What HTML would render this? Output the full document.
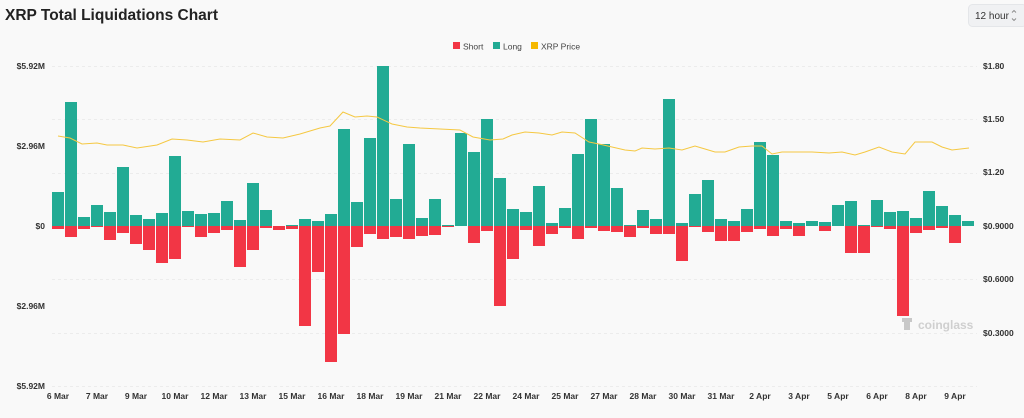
<!DOCTYPE html>
<html><head><meta charset="utf-8"><style>
html,body{margin:0;padding:0;background:#f9f9f9;width:1024px;height:418px;overflow:hidden;font-family:"Liberation Sans",sans-serif}
</style></head><body>
<svg id="c" width="1024" height="418" xmlns="http://www.w3.org/2000/svg" style="position:absolute;left:0;top:0">
<rect width="1024" height="418" fill="#f9f9f9"/>
<text x="5" y="20" font-size="15.5" font-weight="bold" fill="#222">XRP Total Liquidations Chart</text>
<rect x="968.5" y="4.5" width="58" height="22" rx="4" fill="#f0f1f3" stroke="#e4e6e9"/>
<text x="975" y="19" font-size="10" fill="#333">12 hour</text>
<path d="M1012 12.5 l2 -2 l2 2 M1012 18.5 l2 2 l2 -2" fill="none" stroke="#888" stroke-width="0.9"/>
<rect x="453" y="42" width="7" height="7" fill="#f23645"/><text x="463" y="49.5" font-size="8.5" fill="#444">Short</text>
<rect x="493" y="42" width="7" height="7" fill="#22ab94"/><text x="503" y="49.5" font-size="8.5" fill="#444">Long</text>
<rect x="531" y="42" width="7" height="7" fill="#f5b800"/><text x="541" y="49.5" font-size="8.5" fill="#444">XRP Price</text>
<g id="grid" stroke="#ececec" stroke-dasharray="3,3" stroke-width="1"></g>
<g id="bars"></g>
<polyline id="price" fill="none" stroke="#f5c842" stroke-width="1"/>
<g font-size="8.5" fill="#333" font-weight="bold">
<text x="45" y="69" text-anchor="end">$5.92M</text>
<text x="45" y="149" text-anchor="end">$2.96M</text>
<text x="45" y="229" text-anchor="end">$0</text>
<text x="45" y="309" text-anchor="end">$2.96M</text>
<text x="45" y="389" text-anchor="end">$5.92M</text>
<text x="983" y="69">$1.80</text>
<text x="983" y="122">$1.50</text>
<text x="983" y="175">$1.20</text>
<text x="983" y="229">$0.9000</text>
<text x="983" y="282">$0.6000</text>
<text x="983" y="336">$0.3000</text>
</g>
<g id="xl" font-size="8.5" fill="#333" font-weight="bold" text-anchor="middle"></g>
<g fill="#c8c8c8"><path d="M902 318 h10 v4 h-2 v8 h-6 v-8 h-2z"/><text x="918" y="329" font-size="12" font-weight="bold" fill="#cfcfcf">coinglass</text></g>
</svg>
<script>
var NS="http://www.w3.org/2000/svg";
function el(t,a,p){var e=document.createElementNS(NS,t);for(var k in a)e.setAttribute(k,a[k]);document.getElementById(p).appendChild(e);return e;}
[66,119,173,279,333,386].forEach(function(y){el("line",{x1:52,x2:977,y1:y+.5,y2:y+.5},"grid");});
var L=[34,124,9,21,14,59,11,7,13,70,15,12,13,25,6,43,16,0,1,7,5,12,97,24,88,160,27,82,8,27,1,93,74,107,48,17,14,40,3,18,72,107,82,38,1,16,7,127,3,32,46,7,5,17,84,71,5,3,5,4,21,25,1,26,14,15,8,35,20,11,5];
var S=[3,11,3,1,14,7,18,24,37,33,1,11,7,4,41,24,2,4,3,100,46,136,108,21,8,13,11,13,10,9,1,0,17,5,80,33,4,20,8,2,13,2,5,6,11,2,8,8,35,1,6,15,15,6,3,10,3,10,0,5,0,27,27,1,3,90,7,4,2,17,0];
for(var i=0;i<71;i++){var x=52+13*i;
if(L[i]>0)el("rect",{x:x,y:226-L[i],width:12,height:L[i],fill:"#22ab94"},"bars");
if(S[i]>0)el("rect",{x:x,y:226,width:12,height:S[i],fill:"#f23645"},"bars");}
var P="58,136 70,138 82,144 97,143 107,145 123,145 137,148 157,145 172,139 187,140 203,142 220,139 240,140 253,133 267,137 283,138 300,134 320,128 330,126 343,112 355,117 367,116 377,117 392,124 407,127 420,128 440,129 460,130 473,137 490,140 503,139 512,135 525,132 539,133 552,135 562,132 575,133 589,142 599,144 612,147 625,150 635,151 642,148 655,149 669,148 682,150 695,146 705,149 715,152 725,152 739,147 752,146 762,146 772,154 782,152 795,152 812,152 829,153 842,152 855,155 865,152 879,147 892,152 905,154 915,142 932,142 942,147 952,150 969,148";
document.getElementById("price").setAttribute("points",P);
var X=["6 Mar","7 Mar","9 Mar","10 Mar","12 Mar","13 Mar","15 Mar","16 Mar","18 Mar","19 Mar","21 Mar","22 Mar","24 Mar","25 Mar","27 Mar","28 Mar","30 Mar","31 Mar","2 Apr","3 Apr","5 Apr","6 Apr","8 Apr","9 Apr"];
X.forEach(function(t,j){var e=el("text",{x:58+39*j,y:399},"xl");e.textContent=t;});
</script>
</body></html>
